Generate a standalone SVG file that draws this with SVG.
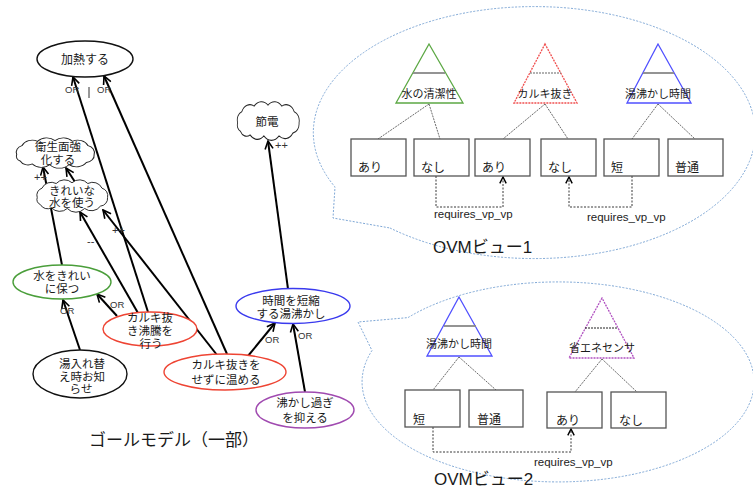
<svg xmlns="http://www.w3.org/2000/svg" xmlns:xlink="http://www.w3.org/1999/xlink" width="753" height="488" viewBox="0 0 753 488">
<defs>
<style>
text{font-family:"Liberation Sans","Noto Sans CJK JP",sans-serif;fill:#1a1a1a}
.g{font-size:11.5px;text-anchor:middle}
.lab{font-size:9.5px;fill:#333}
.ovt{font-size:11px;text-anchor:middle}
.box{fill:#fff;stroke:#555;stroke-width:1.3}
.bx{font-size:12px}
.req{font-size:11.5px;fill:#222}
.big{font-size:17px}
.link{fill:none;stroke:#444;stroke-width:0.8;stroke-dasharray:2 1}
.rq{fill:none;stroke:#222;stroke-width:0.9;stroke-dasharray:2 1.5}
.bubble{fill:none;stroke:#7fa8d6;stroke-width:1;stroke-dasharray:2 1.5}
.cloud{fill:#fff;stroke:#222;stroke-width:1.2;vector-effect:non-scaling-stroke}
.ell{fill:#fff;stroke-width:1.4}
</style>
<path id="cloud" d="M-44,2 A9.4,9.4 0 0 1 -38,-10 A13,13 0 0 1 -20,-16 A14,14 0 0 1 0,-17 A14,14 0 0 1 20,-16 A13,13 0 0 1 38,-10 A10,10 0 0 1 45,2 A10,10 0 0 1 36,13 A14,14 0 0 1 16,16 A15,15 0 0 1 -6,16 A14,14 0 0 1 -26,15 A10,10 0 0 1 -40,11 A7,7 0 0 1 -44,2 Z"/>
<marker id="ah" viewBox="0 0 10 10" refX="9" refY="5" markerWidth="10" markerHeight="10" markerUnits="userSpaceOnUse" orient="auto"><path d="M1,1 L9,5 L1,9" fill="none" stroke="#000" stroke-width="1.6"/></marker>
<marker id="ahs" viewBox="0 0 10 10" refX="9" refY="5" markerWidth="8" markerHeight="8" markerUnits="userSpaceOnUse" orient="auto"><path d="M1,1 L9,5 L1,9" fill="none" stroke="#000" stroke-width="1.8"/></marker>
</defs>
<rect width="753" height="488" fill="#fff"/>

<!-- callout bubbles -->
<path id="bubble1" class="bubble" d="M390,228 A221,126 0 1 0 335,187 L333,218 Z"/>
<path id="bubble2" class="bubble" d="M408,317.6 A196,100 0 1 1 372,350.5 L358,322 Z"/>

<!-- goal model connectors -->
<g id="connectors" fill="none" stroke="#000" stroke-width="2">
<line x1="148" y1="312" x2="73" y2="77" marker-end="url(#ah)"/>
<line x1="227" y1="354" x2="104" y2="76" marker-end="url(#ah)"/>
<line x1="62" y1="265" x2="43" y2="167" marker-end="url(#ah)"/>
<line x1="75" y1="182" x2="66" y2="168" marker-end="url(#ah)"/>
<line x1="138" y1="313" x2="80" y2="212" marker-end="url(#ah)"/>
<line x1="217" y1="355" x2="103" y2="210" marker-end="url(#ah)"/>
<line x1="117" y1="316" x2="97" y2="294" marker-end="url(#ah)"/>
<line x1="80" y1="350" x2="63" y2="300" marker-end="url(#ah)"/>
<line x1="248" y1="356" x2="275" y2="323" marker-end="url(#ah)"/>
<line x1="305" y1="392" x2="293" y2="324" marker-end="url(#ah)"/>
<line x1="288" y1="289" x2="268" y2="141" marker-end="url(#ah)"/>
<line x1="89" y1="87" x2="89" y2="98" stroke="#333" stroke-width="1"/>
</g>
<g id="connector-labels">
<text class="lab" x="65" y="93">OR</text>
<text class="lab" x="97" y="93">OR</text>
<text class="lab" x="34" y="181" style="font-size:11px">++</text>
<text class="lab" x="87" y="245" style="font-size:11px">--</text>
<text class="lab" x="112" y="234" style="font-size:11px">++</text>
<text class="lab" x="110" y="308">OR</text>
<text class="lab" x="60" y="314">OR</text>
<text class="lab" x="265" y="343">OR</text>
<text class="lab" x="298" y="339">OR</text>
<text class="lab" x="275" y="149" style="font-size:11px">++</text>
</g>

<!-- goal nodes -->
<g id="n-kanetsu"><ellipse class="ell" cx="85" cy="59" rx="48" ry="18" stroke="#111"/><text class="g" x="85" y="64" style="font-size:12px">加熱する</text></g>
<g id="n-eisei"><use xlink:href="#cloud" class="cloud" transform="translate(55,153) scale(0.87,0.73)"/><text class="g" x="58" y="151">衛生面強</text><text class="g" x="58" y="164">化する</text></g>
<g id="n-kirei-mizu"><use xlink:href="#cloud" class="cloud" transform="translate(72,196) scale(0.79,0.78)"/><text class="g" x="72" y="195">きれいな</text><text class="g" x="72" y="207">水を使う</text></g>
<g id="n-setsuden"><use xlink:href="#cloud" class="cloud" transform="translate(268,121) scale(0.69,0.93)"/><text class="g" x="267" y="126">節電</text></g>
<g id="n-mizu-kirei"><ellipse class="ell" cx="62" cy="282" rx="49" ry="17" stroke="#4a9e3a"/><text class="g" x="62" y="280">水をきれい</text><text class="g" x="62" y="293">に保つ</text></g>
<g id="n-futto"><ellipse class="ell" cx="150" cy="329" rx="47" ry="17" stroke="#ee4433"/><text class="g" x="150" y="322">カルキ抜</text><text class="g" x="150" y="335">き沸騰を</text><text class="g" x="151" y="348">行う</text></g>
<g id="n-oshirase"><ellipse class="ell" cx="80" cy="374" rx="47" ry="24" stroke="#111"/><text class="g" x="82" y="368">湯入れ替</text><text class="g" x="82" y="381">え時お知</text><text class="g" x="81" y="393">らせ</text></g>
<g id="n-atatameru"><ellipse class="ell" cx="225" cy="372" rx="61" ry="18" stroke="#ee4433"/><text class="g" x="226" y="369">カルキ抜きを</text><text class="g" x="226" y="384">せずに温める</text></g>
<g id="n-tanshuku"><ellipse class="ell" cx="293" cy="306" rx="57" ry="17.5" stroke="#3a3aee"/><text class="g" x="291" y="305">時間を短縮</text><text class="g" x="291" y="318">する湯沸かし</text></g>
<g id="n-osaeru"><ellipse class="ell" cx="305" cy="410" rx="49" ry="18" stroke="#a04ab0"/><text class="g" x="305" y="407">沸かし過ぎ</text><text class="g" x="305" y="422">を抑える</text></g>
<text id="title-goal" class="big" x="89" y="446" style="font-size:17px">ゴールモデル（一部）</text>

<!-- OVM view 1 -->
<g id="ovm1-links">
<path class="link" d="M429,104 L378,139 M429,104 L440,139 M545,104 L503,139 M545,104 L568,139 M658,104 L632,139 M658,104 L695,139"/>
<path class="rq" d="M436,176 V207 H503 V177" marker-end="url(#ahs)"/>
<path class="rq" d="M632,176 V207 H569 V177" marker-end="url(#ahs)"/>
</g>
<g id="vp-mizu"><polygon points="429,44 396,103 463,103" fill="#fff" stroke="#5ca844" stroke-width="1.3"/><line x1="413" y1="73" x2="445" y2="73" stroke="#888" stroke-width="1.8"/><text class="ovt" x="429" y="98">水の清潔性</text></g>
<g id="vp-karuki"><polygon points="545,44 514,103 577,103" fill="#fff" stroke="#f05050" stroke-width="1.3" stroke-dasharray="2 1"/><line x1="530" y1="73" x2="561" y2="73" stroke="#666" stroke-width="1.2" stroke-dasharray="2 1"/><text class="ovt" x="545" y="98">カルキ抜き</text></g>
<g id="vp-yuwakashi1"><polygon points="658,44 627,103 691,103" fill="#fff" stroke="#5050ff" stroke-width="1.3"/><line x1="643" y1="73" x2="674" y2="73" stroke="#888" stroke-width="1.8"/><text class="ovt" x="658" y="98">湯沸かし時間</text></g>
<g id="v1-ari1"><rect class="box" x="351" y="139" width="55" height="37"/><text class="bx" x="358" y="172">あり</text></g>
<g id="v1-nashi1"><rect class="box" x="414" y="139" width="55" height="37"/><text class="bx" x="421" y="172">なし</text></g>
<g id="v1-ari2"><rect class="box" x="475" y="139" width="55" height="37"/><text class="bx" x="482" y="172">あり</text></g>
<g id="v1-nashi2"><rect class="box" x="541" y="139" width="55" height="37"/><text class="bx" x="548" y="172">なし</text></g>
<g id="v1-tan"><rect class="box" x="604" y="139" width="55" height="37"/><text class="bx" x="611" y="172">短</text></g>
<g id="v1-futsu"><rect class="box" x="668" y="139" width="55" height="37"/><text class="bx" x="675" y="172">普通</text></g>
<text class="req" x="434" y="218">requires_vp_vp</text>
<text class="req" x="587" y="221">requires_vp_vp</text>
<text class="big" x="433" y="253">OVMビュー1</text>

<!-- OVM view 2 -->
<g id="ovm2-links">
<path class="link" d="M459,357 L433,390 M459,357 L496,390 M602,359 L575,392 M602,359 L637,392"/>
<path class="rq" d="M433,427 V452 H571 V429" marker-end="url(#ahs)"/>
</g>
<g id="vp-yuwakashi2"><polygon points="459,297 427,356 492,356" fill="#fff" stroke="#5050ff" stroke-width="1.3"/><line x1="444" y1="326" x2="476" y2="326" stroke="#888" stroke-width="1.8"/><text class="ovt" x="459" y="348">湯沸かし時間</text></g>
<g id="vp-sensor"><polygon points="602,298 569,358 634,358" fill="#fff" stroke="#b050c0" stroke-width="1.3" stroke-dasharray="2 1"/><line x1="585" y1="328" x2="618" y2="328" stroke="#222" stroke-width="1" stroke-dasharray="2 1"/><text class="ovt" x="602" y="352">省エネセンサ</text></g>
<g id="v2-tan"><rect class="box" x="405" y="390" width="55" height="37"/><text class="bx" x="413" y="424">短</text></g>
<g id="v2-futsu"><rect class="box" x="469" y="390" width="54" height="37"/><text class="bx" x="477" y="424">普通</text></g>
<g id="v2-ari"><rect class="box" x="547" y="392" width="55" height="36"/><text class="bx" x="556" y="425">あり</text></g>
<g id="v2-nashi"><rect class="box" x="611" y="392" width="55" height="36"/><text class="bx" x="619" y="425">なし</text></g>
<text class="req" x="534" y="466">requires_vp_vp</text>
<text class="big" x="434" y="485">OVMビュー2</text>
</svg>
